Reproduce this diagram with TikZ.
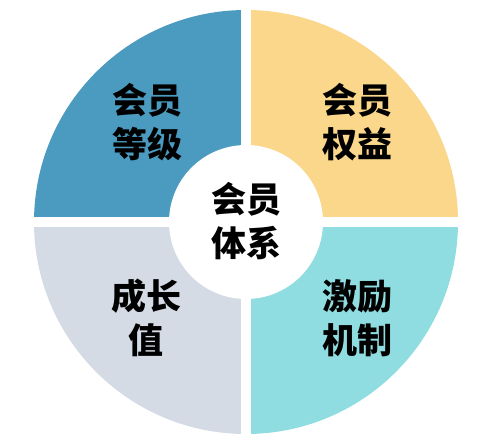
\documentclass[tikz,border=0pt]{standalone}
\usepackage{fontspec}
\newfontfamily\cjk{Noto Sans CJK SC}
\definecolor{qblue}{HTML}{4A9BBF}
\definecolor{qorange}{HTML}{FAD78A}
\definecolor{qgray}{HTML}{D5DBE5}
\definecolor{qcyan}{HTML}{8FDDE0}
\tikzset{
  lbl/.style={align=center, text=black, font=\cjk\bfseries\fontsize{35}{44}\selectfont, inner sep=0pt}
}
\begin{document}
\begin{tikzpicture}[x=1pt,y=-1pt]
\useasboundingbox (0,0) rectangle (494,442);
\fill[white] (0,0) rectangle (494,442);
\coordinate (C) at (246,222);
\begin{scope}
  \clip (C) circle (212);
  \fill[qblue] (0,0) rectangle (241,217);
  \fill[qorange] (251,0) rectangle (494,217);
  \fill[qgray] (0,227) rectangle (241,442);
  \fill[qcyan] (251,227) rectangle (494,442);
\end{scope}
\fill[white] (C) circle (77);
\node[lbl] (dengji) at (147,122) {会员\\等级};
\node[lbl] (quanyi) at (357,122) {会员\\权益};
\node[lbl] (tixi) at (246,221) {会员\\体系};
\node[lbl] (chengzhang) at (146,318) {成长\\值};
\node[lbl] (jili) at (357,318) {激励\\机制};
\end{tikzpicture}
\end{document}
